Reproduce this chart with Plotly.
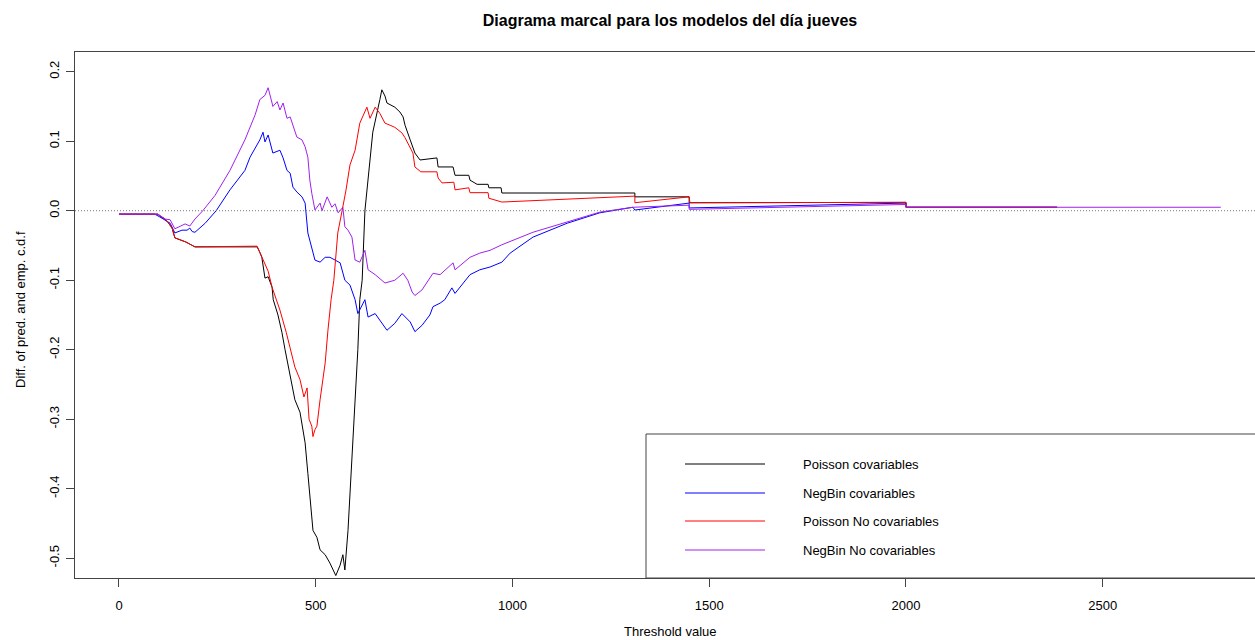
import plotly.graph_objects as go

# ---------------- data ----------------
series_names = ["Poisson covariables", "NegBin covariables",
                "Poisson No covariables", "NegBin No covariables"]
series_colors = ["#000000", "#0000FF", "#FF0000", "#A020F0"]

x_pois_cov = [0, 99, 104, 117, 125, 135, 142, 170, 193, 351, 358, 363, 371, 379, 389, 392,
              404, 414, 422, 435, 447, 460, 473, 480, 487, 493, 503, 511, 524, 536, 551,
              562, 569, 574, 582, 590, 600, 607, 612, 618, 625, 633, 645, 663, 668, 676,
              681, 701, 714, 722, 727, 740, 752, 765, 808, 811, 849, 854, 889, 892, 910,
              938, 940, 971, 973, 1311, 1311, 1449, 1449, 2000, 2000, 2384]
y_pois_cov = [-0.005, -0.005, -0.008, -0.012, -0.017, -0.025, -0.039, -0.045, -0.052, -0.052,
              -0.06, -0.067, -0.097, -0.095, -0.11, -0.128, -0.15, -0.175, -0.2, -0.235,
              -0.272, -0.29, -0.334, -0.378, -0.42, -0.46, -0.47, -0.488, -0.495, -0.507,
              -0.525, -0.51, -0.495, -0.517, -0.46, -0.378, -0.29, -0.2, -0.128, -0.1, 0.0,
              0.05, 0.113, 0.16, 0.174, 0.165, 0.155, 0.149, 0.142, 0.135, 0.123, 0.102,
              0.083, 0.073, 0.076, 0.063, 0.063, 0.051, 0.051, 0.044, 0.038, 0.038, 0.033,
              0.033, 0.0255, 0.0255, 0.020, 0.020, 0.0115, 0.012, 0.005, 0.005]

x_nb_cov = [0, 91, 104, 117, 130, 142, 160, 173, 180, 186, 193, 219, 247, 282, 320, 333, 358,
            366, 371, 379, 389, 391, 409, 417, 427, 435, 442, 452, 465, 473, 480, 490, 498,
            511, 524, 536, 549, 562, 574, 587, 600, 607, 625, 633, 651, 663, 681, 701, 719,
            740, 752, 770, 790, 798, 816, 828, 846, 854, 892, 917, 943, 973, 994, 1052, 1139,
            1222, 1306, 1311, 1449, 1449, 2000, 2000, 2384]
y_nb_cov = [-0.005, -0.005, -0.009, -0.013, -0.018, -0.032, -0.028, -0.028, -0.025, -0.03,
            -0.031, -0.018, 0.0, 0.03, 0.058, 0.077, 0.102, 0.113, 0.099, 0.109, 0.09, 0.083,
            0.087, 0.076, 0.058, 0.054, 0.034, 0.027, 0.02, 0.011, -0.032, -0.052, -0.071,
            -0.074, -0.067, -0.067, -0.071, -0.075, -0.1, -0.107, -0.128, -0.148, -0.128,
            -0.153, -0.148, -0.157, -0.172, -0.162, -0.148, -0.16, -0.174, -0.165, -0.15,
            -0.138, -0.133, -0.128, -0.111, -0.119, -0.092, -0.085, -0.081, -0.074, -0.061,
            -0.038, -0.018, -0.003, 0.005, 0.001, 0.011, 0.004, 0.011, 0.005, 0.005]

x_pois_nocov = [0, 99, 117, 125, 135, 142, 170, 193, 351, 363, 379, 389, 409, 425, 440, 447,
                460, 470, 478, 483, 490, 493, 498, 503, 511, 524, 531, 539, 546, 556, 567,
                577, 587, 600, 612, 630, 638, 651, 663, 676, 689, 701, 719, 727, 747, 752,
                767, 808, 811, 821, 851, 854, 889, 892, 938, 940, 973, 1311, 1311, 1449, 1451,
                2000, 2000, 2384]
y_pois_nocov = [-0.005, -0.005, -0.012, -0.017, -0.025, -0.039, -0.045, -0.052, -0.051,
                -0.067, -0.087, -0.11, -0.143, -0.175, -0.21, -0.225, -0.243, -0.268, -0.255,
                -0.30, -0.31, -0.325, -0.315, -0.31, -0.272, -0.219, -0.172, -0.128, -0.1,
                -0.032, 0.0, 0.03, 0.066, 0.087, 0.126, 0.149, 0.133, 0.149, 0.14, 0.126,
                0.123, 0.12, 0.112, 0.105, 0.083, 0.063, 0.056, 0.056, 0.047, 0.04, 0.041,
                0.03, 0.033, 0.026, 0.026, 0.018, 0.0125, 0.021, 0.0115, 0.020, 0.0115, 0.012,
                0.005, 0.005]

x_nb_nocov = [0, 99, 117, 130, 142, 168, 180, 193, 213, 244, 282, 320, 346, 358, 371, 379,
              389, 391, 402, 409, 417, 427, 435, 440, 452, 465, 473, 480, 485, 490, 498, 511,
              516, 529, 541, 549, 557, 569, 574, 582, 592, 600, 612, 625, 633, 651, 676, 701,
              722, 734, 745, 752, 770, 798, 816, 849, 854, 892, 917, 943, 973, 1052, 1139,
              1222, 1306, 1449, 1449, 2000, 2000, 2800]
y_nb_nocov = [-0.005, -0.005, -0.012, -0.013, -0.026, -0.019, -0.022, -0.012, 0.0, 0.022,
              0.058, 0.102, 0.138, 0.16, 0.166, 0.177, 0.155, 0.150, 0.157, 0.145, 0.155,
              0.133, 0.135, 0.126, 0.106, 0.102, 0.092, 0.077, 0.044, 0.025, 0.001, 0.011,
              0.0, 0.02, 0.005, 0.010, -0.003, 0.005, -0.023, -0.028, -0.038, -0.071, -0.074,
              -0.057, -0.085, -0.092, -0.104, -0.1, -0.09, -0.1, -0.117, -0.122, -0.114,
              -0.09, -0.092, -0.075, -0.085, -0.067, -0.061, -0.057, -0.049, -0.031, -0.016,
              -0.002, 0.005, 0.008, 0.002, 0.009, 0.005, 0.005]

x_tick_vals = [0, 500, 1000, 1500, 2000, 2500]
x_tick_text = ["0", "500", "1000", "1500", "2000", "2500"]
y_tick_vals = [-0.5, -0.4, -0.3, -0.2, -0.1, 0.0, 0.1, 0.2]
y_tick_text = ["-0.5", "-0.4", "-0.3", "-0.2", "-0.1", "0.0", "0.1", "0.2"]

title_text = "Diagrama marcal para los modelos del día jueves"
x_title = "Threshold value"
y_title = "Diff. of pred. and emp. c.d.f"

# ---------------- figure ----------------
FONT = "Arial, 'Liberation Sans', sans-serif"
FS = 13
W, H = 1255, 640
ML, MR, MT, MB = 75, 0, 52, 62
PW, PH = W - ML - MR, H - MT - MB


def px_x(p):
    return (p - ML) / PW


def px_y(p):
    return (H - MB - p) / PH


xs = [x_pois_cov, x_nb_cov, x_pois_nocov, x_nb_nocov]
ys = [y_pois_cov, y_nb_cov, y_pois_nocov, y_nb_nocov]

fig = go.Figure()
for name, col, xv, yv in zip(series_names, series_colors, xs, ys):
    fig.add_trace(go.Scatter(x=xv, y=yv, mode="lines", name=name,
                             line=dict(color=col, width=1), showlegend=False))

shapes = [
    # dotted zero reference line
    dict(type="line", xref="paper", yref="y", x0=0, x1=1, y0=0, y1=0,
         line=dict(color="#777777", width=1, dash="1px,2px")),
    # legend box (extends past the right edge as in the reference)
    dict(type="rect", xref="paper", yref="paper", x0=px_x(646), x1=1.02,
         y0=0, y1=px_y(434), line=dict(color="#444444", width=1),
         fillcolor="white", layer="above"),
]
annotations = []
row_y = [464, 493, 521, 550]
for name, col, ry in zip(series_names, series_colors, row_y):
    shapes.append(dict(type="line", xref="paper", yref="paper",
                       x0=px_x(685), x1=px_x(765), y0=px_y(ry), y1=px_y(ry),
                       line=dict(color=col, width=1), layer="above"))
    annotations.append(dict(xref="paper", yref="paper", x=px_x(801), y=px_y(ry),
                            text=name, showarrow=False, xanchor="left",
                            yanchor="middle", font=dict(family=FONT, size=FS,
                                                        color="#000000")))

annotations.append(dict(xref="paper", yref="paper", x=px_x(670), y=px_y(631),
                        text=x_title, showarrow=False, xanchor="center",
                        yanchor="middle", font=dict(family=FONT, size=FS, color="#000")))
annotations.append(dict(xref="paper", yref="paper", x=px_x(20), y=px_y(310),
                        text=y_title, showarrow=False, xanchor="center",
                        yanchor="middle", textangle=-90,
                        font=dict(family=FONT, size=FS, color="#000")))

fig.update_layout(
    width=W, height=H,
    margin=dict(l=ML, r=MR, t=MT, b=MB, pad=0),
    paper_bgcolor="white", plot_bgcolor="white",
    title=dict(text="<b>" + title_text + "</b>", xref="paper", x=px_x(670),
               xanchor="center", yref="container", y=1 - 20 / H, yanchor="middle",
               font=dict(family=FONT, size=16, color="#000")),
    shapes=shapes, annotations=annotations,
    showlegend=False,
    xaxis=dict(range=[-111.8, 2887], tickvals=x_tick_vals, ticktext=x_tick_text,
               showgrid=False, zeroline=False, showline=True, mirror=True,
               linecolor="#444444", linewidth=1, ticks="outside", ticklen=8,
               tickcolor="#444444", tickfont=dict(family=FONT, size=FS, color="#000"),
               ticklabelstandoff=7),
    yaxis=dict(range=[-0.5285, 0.2284], tickvals=y_tick_vals, ticktext=y_tick_text,
               showgrid=False, zeroline=False, showline=True, mirror=False,
               linecolor="#444444", linewidth=1, ticks="outside", ticklen=8,
               tickcolor="#444444", tickangle=-90,
               tickfont=dict(family=FONT, size=FS, color="#000"),
               ticklabelstandoff=2),
)

fig.write_html("out.html")
